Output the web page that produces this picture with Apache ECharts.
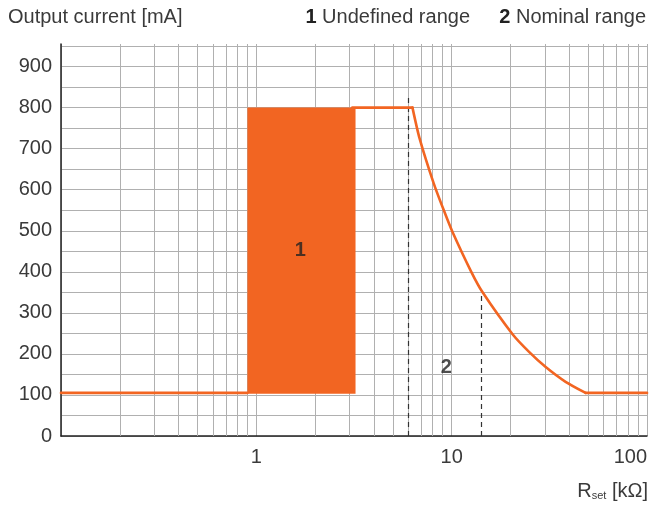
<!DOCTYPE html>
<html><head><meta charset="utf-8">
<script src="https://cdn.jsdelivr.net/npm/echarts@6/dist/echarts.min.js"></script>
<style>html,body{margin:0;padding:0;background:#fff}#c{width:650px;height:506px}</style>
</head><body><div id="c"></div>
<script>
// ---- data ----
const lowR = [0.1, 0.9];
const lowI = [105, 105];
const topR = [3.1, 6.3];
const topI = [800, 800];
const curveR = [6.3, 6.85, 8.1, 9.2, 10.1, 12.6, 14.4, 20.5, 24.9, 30.3, 38.3, 48.5];
const curveI = [800, 725, 615, 545, 497, 400, 350, 248, 205, 168, 132, 105];
const highR = [48.5, 100];
const highI = [105, 105];
const undefinedRangeR = [0.9, 3.22];
const undefinedRangeI = [103, 800];
const dashR = [6.0, 14.2];
const dashTopI = [830, 345];
const minorGridR = [0.2,0.3,0.4,0.5,0.6,0.7,0.8,0.9, 2,3,4,5,6,7,8,9, 20,30,40,50,60,70,80,90];
const annotR = [1.68, 9.4];
const annotI = [453, 168];
const annotText = ['1', '2'];
const xLabels = ['1', '10', '100'];

const ORANGE = '#F26522';
const FONT = 'Liberation Sans, Arial, sans-serif';
const TXT = '#3a3a3a';
const FS = 20;

const toPts = (xs, ys) => xs.map((x, i) => [x, ys[i]]);
const orangeLine = (name, xs, ys, smooth) => ({
  type: 'line', name, z: 5, showSymbol: false, symbol: 'none', smooth: smooth || false,
  lineStyle: {color: ORANGE, width: 2.6, cap: 'round', join: 'round'},
  data: toPts(xs, ys)
});

const chart = echarts.init(document.getElementById('c'), null, {renderer: 'canvas'});
chart.setOption({
  animation: false,
  grid: {left: 61, right: 1, top: 44, bottom: 70},
  xAxis: {
    type: 'log', logBase: 10, min: 0.1, max: 100,
    axisLine: {show: true, lineStyle: {color: '#222', width: 1.5}},
    axisTick: {show: false},
    splitLine: {show: true, lineStyle: {color: '#b0b0b0', width: 1}},
    axisLabel: {
      color: TXT, fontSize: FS, fontFamily: FONT, margin: 11,
      showMinLabel: false, alignMaxLabel: 'right',
      formatter: v => { const s = String(+(+v).toPrecision(6)); return xLabels.includes(s) ? s : ''; }
    }
  },
  yAxis: {
    type: 'value', min: 0, max: 955, interval: 50,
    axisLine: {show: true, lineStyle: {color: '#222', width: 1.5}},
    axisTick: {show: false},
    splitLine: {show: true, showMaxLine: false, lineStyle: {color: '#b0b0b0', width: 1}},
    axisLabel: {
      color: TXT, fontSize: FS, fontFamily: FONT, margin: 9,
      formatter: v => (v % 100 === 0 ? String(v) : '')
    }
  },
  graphic: [
    {type: 'text', left: 8, top: 7, style: {text: 'Output current [mA]', fill: TXT, fontSize: FS, fontFamily: FONT}},
    {type: 'text', right: 180, top: 7, style: {text: '{b|1} Undefined range', rich: {b: {fontWeight: 'bold', fill: '#222', fontSize: FS, fontFamily: FONT}}, fill: TXT, fontSize: FS, fontFamily: FONT}},
    {type: 'text', right: 4, top: 7, style: {text: '{b|2} Nominal range', rich: {b: {fontWeight: 'bold', fill: '#222', fontSize: FS, fontFamily: FONT}}, fill: TXT, fontSize: FS, fontFamily: FONT}},
    {type: 'text', right: 2, top: 481, style: {text: 'R{s|set} [kΩ]', rich: {s: {fontSize: 11, fill: TXT, fontFamily: FONT, padding: [9, 0, 0, 0]}}, fill: TXT, fontSize: FS, fontFamily: FONT}}
  ],
  series: [
    {
      type: 'line', name: 'grid', data: [], silent: true, z: 1,
      markLine: {
        silent: true, z: 1, symbol: ['none', 'none'], label: {show: false},
        lineStyle: {color: '#b0b0b0', width: 1, type: 'solid'},
        emphasis: {disabled: true},
        data: minorGridR.map(r => ({xAxis: r}))
      }
    },
    {
      type: 'line', name: 'undefined', data: [], silent: true, z: 3,
      markArea: {
        silent: true, z: 4,
        itemStyle: {color: ORANGE, opacity: 1},
        data: [[{coord: [undefinedRangeR[0], undefinedRangeI[0]]}, {coord: [undefinedRangeR[1], undefinedRangeI[1]]}]]
      },
      markLine: {
        silent: true, z: 4, symbol: ['none', 'none'], label: {show: false},
        lineStyle: {color: '#333', width: 1.2, type: [5, 4]},
        data: dashR.map((r, i) => [{coord: [r, 0]}, {coord: [r, dashTopI[i]]}])
      }
    },
    orangeLine('low', lowR, lowI),
    orangeLine('top', topR, topI),
    orangeLine('curve', curveR, curveI, 0.25),
    orangeLine('high', highR, highI),
    {
      type: 'scatter', name: 'labels', symbolSize: 0, silent: true, z: 6,
      data: annotR.map((r, i) => ({value: [r, annotI[i]], name: annotText[i]})),
      label: {show: true, position: 'inside', formatter: p => p.name, color: '#222', fontWeight: 'bold', fontSize: FS, fontFamily: FONT}
    }
  ]
});
</script></body></html>
